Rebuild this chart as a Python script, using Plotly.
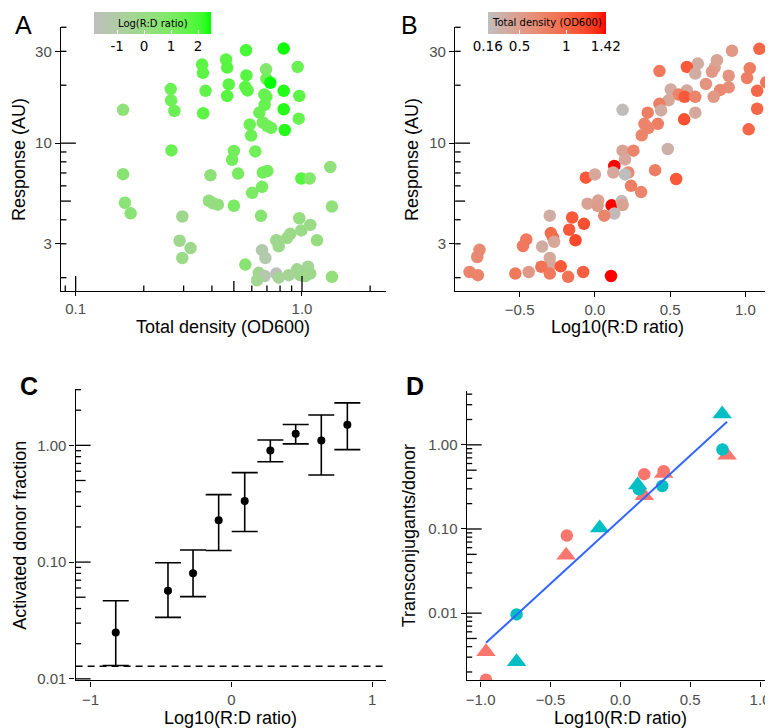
import math
import plotly.graph_objects as go

W, H = 773, 728

# ---------------- Panel A data: total density vs response, colour = ln(R:D) ----------------
a_density = [0.162, 0.162, 0.165, 0.175, 0.263, 0.264, 0.273, 0.265, 0.296, 0.288,
             0.322, 0.296, 0.362, 0.365, 0.375, 0.366, 0.394, 0.388, 0.404, 0.425,
             0.462, 0.467, 0.475, 0.467, 0.500, 0.491, 0.522, 0.500, 0.566, 0.568,
             0.562, 0.575, 0.588, 0.596, 0.622, 0.602, 0.562, 0.666, 0.671, 0.703,
             0.659, 0.694, 0.696, 0.725, 0.682, 0.696, 0.684, 0.648, 0.671, 0.701,
             0.730, 0.830, 0.830, 0.830, 0.839, 0.957, 0.973, 0.967, 0.993, 1.081,
             1.334, 1.356, 0.973, 0.993, 1.088, 0.888, 0.859, 0.770, 0.789, 1.165,
             0.666, 0.689, 0.644, 0.684, 0.770, 0.633, 0.789, 0.873, 0.951, 1.063,
             0.983, 1.088, 1.034, 1.356]
a_response = [14.9, 6.90, 4.90, 4.32, 19.1, 16.7, 14.7, 9.17, 4.16, 3.11,
              2.85, 2.53, 25.6, 23.2, 18.7, 14.3, 6.81, 5.02, 4.87, 4.79,
              27.2, 24.7, 20.2, 17.6, 9.10, 8.20, 6.95, 4.73, 30.4, 22.5,
              19.6, 18.8, 12.5, 10.95, 9.06, 5.52, 2.34, 5.93, 7.03, 7.17,
              4.19, 24.2, 21.6, 20.6, 17.9, 17.4, 15.8, 14.4, 12.8, 12.3,
              12.0, 31.0, 18.7, 15.0, 11.7, 24.9, 17.6, 13.4, 6.55, 6.55,
              7.52, 4.68, 4.07, 3.52, 3.76, 3.38, 3.21, 3.13, 2.91, 3.13,
              2.78, 2.53, 2.12, 2.04, 2.10, 1.94, 2.00, 2.06, 2.21, 2.28,
              2.06, 2.10, 2.04, 2.02]
a_ln_ratio = [0.4, 0.6, 0.5, 0.5, 1.4, 1.3, 1.4, 1.4, -0.3, -0.2,
              -0.2, 0.0, 1.7, 1.7, 1.6, 1.7, 0.4, 0.2, 0.2, 0.2,
              1.7, 1.8, 1.7, 1.8, 1.2, 1.2, 1.1, 1.0, 2.0, 1.8,
              1.8, 1.7, 1.4, 1.4, 1.3, 1.0, 0.6, 1.1, 1.2, 1.2,
              0.6, 0.8, 1.3, 2.5, 1.5, 1.5, 1.5, 1.4, 1.3, 1.3,
              1.3, 2.4, 2.3, 2.3, 2.3, 1.4, 1.7, 1.5, 1.8, 0.8,
              0.3, 0.3, 0.2, 0.0, 0.0, -0.1, -0.1, -0.2, -0.2, 0.2,
              -1.2, -1.2, -0.3, -1.3, -1.8, -0.4, -0.5, -0.5, -0.4, -0.4,
              -0.3, -0.3, -0.3, 0.3]
a_color_range = [-1.86, 2.48]
a_legend_ticks = [-1, 0, 1, 2]

# ---------------- Panel B data: log10 ratio vs response, colour = density ----------------
b_log_ratio = [1.093, 0.911, 0.684, 0.611, 0.429, 0.667, 0.811, 0.796, 0.778, 0.889,
               1.029, 1.011, 1.138, 0.738, 0.889, 0.833, 0.789, 0.504, 0.611, 0.556,
               0.596, 0.667, 0.489, 0.429, 0.440, 0.667, 0.593, 1.078, 1.078, 1.022,
               0.184, 0.351, 0.329, 0.418, 0.356, 0.311, 0.484, 0.184, 0.256, 0.200,
               0.400, 0.129, 0.222, 0.200, 0.122, -0.060, 0.000, 0.540, 0.240, 0.307,
               -0.049, 0.022, 0.018, 0.111, 0.178, 0.184, 0.129, 0.062, -0.151, -0.073,
               -0.300, -0.293, -0.278, -0.171, -0.129, -0.456, -0.478, -0.351, -0.271, -0.300,
               -0.296, -0.767, -0.782, -0.833, -0.778, -0.529, -0.440, -0.356, -0.300, -0.227,
               -0.178, -0.078, 0.107]
b_response = [30.9, 30.2, 25.9, 24.9, 23.7, 23.0, 27.0, 24.7, 23.5, 22.4,
              24.5, 21.8, 20.7, 20.3, 19.5, 18.9, 17.4, 19.0, 18.8, 17.9,
              17.4, 17.4, 16.7, 16.0, 14.8, 14.4, 13.3, 18.7, 15.1, 11.8,
              14.9, 14.4, 12.6, 12.6, 12.0, 10.98, 9.32, 9.14, 9.14, 8.23,
              7.24, 7.61, 7.04, 6.88, 7.04, 6.62, 6.88, 6.51, 6.00, 5.57,
              4.85, 5.04, 4.72, 4.75, 5.00, 4.77, 4.31, 4.20, 4.11, 3.81,
              4.20, 3.41, 3.23, 3.55, 3.13, 3.16, 2.92, 2.90, 3.07, 2.53,
              2.34, 2.79, 2.56, 2.14, 2.06, 2.10, 2.14, 2.28, 2.10, 2.29,
              2.02, 2.14, 2.04]
b_density = [1.0, 0.55, 0.35, 1.1, 0.85, 0.35, 0.45, 0.45, 0.55, 0.6,
             0.8, 0.8, 0.85, 0.6, 0.65, 0.7, 0.55, 0.35, 0.4, 0.75,
             1.1, 0.75, 0.4, 0.8, 0.35, 0.4, 1.15, 1.0, 1.0, 1.0,
             0.17, 0.8, 0.75, 0.8, 0.75, 0.75, 0.3, 0.45, 0.75, 0.4,
             0.8, 1.42, 0.7, 0.16, 0.4, 1.1, 0.4, 1.1, 0.8, 0.75,
             0.45, 0.45, 0.5, 1.42, 0.2, 0.45, 0.2, 0.75, 1.1, 1.15,
             0.35, 0.95, 0.95, 1.1, 1.2, 0.85, 0.85, 0.35, 0.4, 0.4,
             0.4, 0.7, 0.7, 0.75, 0.75, 0.85, 0.55, 0.9, 0.85, 1.1,
             0.9, 1.05, 1.42]
b_color_range = [0.16, 1.42]
b_legend_ticks = [0.16, 0.5, 1, 1.42]
b_legend_text = ["0.16", "0.5", "1", "1.42"]

# ---------------- Panel C data ----------------
c_log_ratio = [-0.821, -0.450, -0.272, -0.090, 0.095, 0.277, 0.457, 0.639, 0.824]
c_fraction = [0.0249, 0.0569, 0.0802, 0.228, 0.334, 0.902, 1.255, 1.10, 1.50]
c_upper = [0.0466, 0.0987, 0.127, 0.378, 0.584, 1.11, 1.51, 1.82, 2.31]
c_lower = [0.0130, 0.0336, 0.0506, 0.1255, 0.183, 0.723, 1.03, 0.557, 0.919]
c_detection_limit = 0.0128

# ---------------- Panel D data ----------------
d_red_circle_x = [-0.962, -0.383, 0.171, 0.310]
d_red_circle_y = [0.00162, 0.0835, 0.448, 0.486]
d_red_tri_x = [-0.962, -0.388, 0.171, 0.310, 0.764]
d_red_tri_y = [0.00348, 0.0486, 0.249, 0.456, 0.75]
d_cyan_circle_x = [-0.743, 0.133, 0.300, 0.731]
d_cyan_circle_y = [0.00965, 0.296, 0.324, 0.881]
d_cyan_tri_x = [-0.743, -0.148, 0.124, 0.729]
d_cyan_tri_y = [0.00265, 0.1028, 0.333, 2.32]
d_fit_x = [-0.962, 0.764]
d_fit_y = [0.00444, 1.88]

# ---------------- log-tick positions ----------------
a_x_short = [0.09, 0.2, 0.3, 0.4, 0.6, 0.7, 0.8, 0.9, 2]
a_x_mid = [0.5]
a_x_long = [0.1, 1]
resp_short = [2, 3, 4, 6, 7, 8, 9, 20, 30, 40]
resp_mid = [5]
resp_long = [10]
c_short = [0.02, 0.03, 0.04, 0.06, 0.07, 0.08, 0.09, 0.2, 0.3, 0.4, 0.6, 0.7, 0.8, 0.9, 2, 3]
c_mid = [0.05, 0.5]
c_long = [0.01, 0.1, 1]
d_short = [0.002, 0.003, 0.004, 0.006, 0.007, 0.008, 0.009, 0.02, 0.03, 0.04, 0.06, 0.07,
           0.08, 0.09, 0.2, 0.3, 0.4, 0.6, 0.7, 0.8, 0.9, 2, 3, 4]
d_mid = [0.005, 0.05, 0.5]
d_long = [0.01, 0.1, 1]

# ---------------- colour helpers (CIELAB ramp like ggplot) ----------------
def _lin(c):
    c = c / 255.0
    return c / 12.92 if c <= 0.04045 else ((c + 0.055) / 1.055) ** 2.4

def _gam(c):
    c = 12.92 * c if c <= 0.0031308 else 1.055 * max(c, 0) ** (1 / 2.4) - 0.055
    return max(0, min(255, round(c * 255)))

def _f(t):
    return t ** (1 / 3) if t > (6 / 29) ** 3 else t / (3 * (6 / 29) ** 2) + 4 / 29

def _finv(t):
    return t ** 3 if t > 6 / 29 else 3 * (6 / 29) ** 2 * (t - 4 / 29)

WP = (0.95047, 1.0, 1.08883)

def to_lab(hexc):
    r, g, b = [_lin(int(hexc[i:i + 2], 16)) for i in (1, 3, 5)]
    X = 0.4124 * r + 0.3576 * g + 0.1805 * b
    Y = 0.2126 * r + 0.7152 * g + 0.0722 * b
    Z = 0.0193 * r + 0.1192 * g + 0.9505 * b
    fx_, fy_, fz_ = _f(X / WP[0]), _f(Y / WP[1]), _f(Z / WP[2])
    return (116 * fy_ - 16, 500 * (fx_ - fy_), 200 * (fy_ - fz_))

def from_lab(L, a, b):
    fy_ = (L + 16) / 116
    fx_ = fy_ + a / 500
    fz_ = fy_ - b / 200
    X, Y, Z = WP[0] * _finv(fx_), WP[1] * _finv(fy_), WP[2] * _finv(fz_)
    r = 3.2406 * X - 1.5372 * Y - 0.4986 * Z
    g = -0.9689 * X + 1.8758 * Y + 0.0415 * Z
    bb = 0.0557 * X - 0.2040 * Y + 1.0570 * Z
    return "rgb(%d,%d,%d)" % (_gam(r), _gam(g), _gam(bb))

def lab_scale(lo, hi, n=16):
    l1, l2 = to_lab(lo), to_lab(hi)
    out = []
    for i in range(n + 1):
        t = i / n
        out.append([t, from_lab(*[l1[k] + (l2[k] - l1[k]) * t for k in range(3)])])
    return out

green_scale = lab_scale("#BEBEBE", "#00FF00")
red_scale = lab_scale("#BEBEBE", "#FF0000")

# ---------------- layout geometry (pixels) ----------------
def fx(p):
    return p / W

def fy(p):
    return 1 - p / H

A_XD, A_YD = [52, 377], [19.3, 285.7]
B_XD, B_YD = [446.7, 771.7], [19.3, 285.7]
C_XD, C_YD = [66.7, 377.7], [385, 679]
D_XD, D_YD = [458.3, 766], [386.7, 679]

A_XR = [-1.065, 0.369]
A_YR = [0.232, 1.603]
B_XR = [-0.929, 1.228]
C_XR = [-1.106, 1.10]
C_YR = [-2.014, 0.48]
D_XR = [-1.10, 1.10]
D_YR = [-2.80, 0.64]

TICKFONT = dict(family="Liberation Sans", size=15, color="#4D4D4D")
LW = 1.3
SHORT, MID, LONG = 5.5, 10, 15

def main_axis(dom, anchor, rng, typ, tickvals, ticktext, **kw):
    d = dict(domain=dom, anchor=anchor, range=rng, type=typ, showline=True,
             linecolor="black", linewidth=LW, showgrid=False, zeroline=False,
             tickmode="array", tickvals=tickvals, ticktext=ticktext,
             ticks="outside", ticklen=5, tickcolor="black", tickwidth=LW,
             tickfont=TICKFONT)
    d.update(kw)
    return d

shapes = []

def logticks_y(xref, yref, rng, xdom_px, ydom_px, sets):
    width = xdom_px[1] - xdom_px[0]
    for vals, ln in sets:
        for v in vals:
            f = (math.log10(v) - rng[0]) / (rng[1] - rng[0])
            if 0 <= f <= 1.001:
                shapes.append(dict(type="line", xref=xref + " domain", yref=yref + " domain",
                                   x0=0, x1=ln / width, y0=f, y1=f,
                                   line=dict(color="black", width=LW)))

def logticks_x(xref, yref, rng, xdom_px, ydom_px, sets):
    height = ydom_px[1] - ydom_px[0]
    for vals, ln in sets:
        for v in vals:
            f = (math.log10(v) - rng[0]) / (rng[1] - rng[0])
            if 0 <= f <= 1:
                shapes.append(dict(type="line", xref=xref + " domain", yref=yref + " domain",
                                   x0=f, x1=f, y0=0, y1=ln / height,
                                   line=dict(color="black", width=LW)))

logticks_x("x", "y", A_XR, A_XD, A_YD, [(a_x_short, SHORT), (a_x_mid, MID), (a_x_long, LONG)])
logticks_y("x", "y", A_YR, A_XD, A_YD, [(resp_short, SHORT), (resp_mid, MID), (resp_long, LONG)])
logticks_y("x2", "y2", A_YR, B_XD, B_YD, [(resp_short, SHORT), (resp_mid, MID), (resp_long, LONG)])
logticks_y("x3", "y3", C_YR, C_XD, C_YD, [(c_short, SHORT), (c_mid, MID), (c_long, LONG)])
logticks_y("x4", "y4", D_YR, D_XD, D_YD, [(d_short, SHORT), (d_mid, MID), (d_long, LONG)])

fig = go.Figure()

# Panel A
fig.add_trace(go.Scatter(x=a_density, y=a_response, mode="markers", xaxis="x", yaxis="y",
                         marker=dict(size=12.5, color=a_ln_ratio, coloraxis="coloraxis", line_width=0),
                         showlegend=False, hoverinfo="skip"))
# Panel B
fig.add_trace(go.Scatter(x=b_log_ratio, y=b_response, mode="markers", xaxis="x2", yaxis="y2",
                         marker=dict(size=12.5, color=b_density, coloraxis="coloraxis2", line_width=0),
                         showlegend=False, hoverinfo="skip"))
# Panel C
fig.add_trace(go.Scatter(x=C_XR, y=[c_detection_limit, c_detection_limit], mode="lines",
                         xaxis="x3", yaxis="y3", line=dict(color="black", width=1.4, dash="7px,5px"),
                         showlegend=False, hoverinfo="skip"))
fig.add_trace(go.Scatter(x=c_log_ratio, y=c_fraction, mode="markers", xaxis="x3", yaxis="y3",
                         marker=dict(size=8, color="black"),
                         error_y=dict(type="data", symmetric=False,
                                      array=[u - v for u, v in zip(c_upper, c_fraction)],
                                      arrayminus=[v - l for v, l in zip(c_fraction, c_lower)],
                                      width=13, thickness=1.6, color="black"),
                         showlegend=False, hoverinfo="skip"))
# Panel D
RED, CYAN = "#F8766D", "#00BFC4"
for xs, ys, col, sym, sz in [
    (d_red_circle_x, d_red_circle_y, RED, "circle", 12.5),
    (d_red_tri_x, d_red_tri_y, RED, "triangle-up", 17),
    (d_cyan_circle_x, d_cyan_circle_y, CYAN, "circle", 12.5),
    (d_cyan_tri_x, d_cyan_tri_y, CYAN, "triangle-up", 17),
]:
    fig.add_trace(go.Scatter(x=xs, y=ys, mode="markers", xaxis="x4", yaxis="y4",
                             marker=dict(size=sz, color=col, symbol=sym, line_width=0),
                             showlegend=False, hoverinfo="skip"))
fig.add_trace(go.Scatter(x=d_fit_x, y=d_fit_y, mode="lines", xaxis="x4", yaxis="y4",
                         line=dict(color="#3366FF", width=2), showlegend=False, hoverinfo="skip"))

AXD = [fx(A_XD[0]), fx(A_XD[1])]
AYD = [fy(A_YD[1]), fy(A_YD[0])]
BXD = [fx(B_XD[0]), fx(B_XD[1])]
BYD = [fy(B_YD[1]), fy(B_YD[0])]
CXD = [fx(C_XD[0]), fx(C_XD[1])]
CYD = [fy(C_YD[1]), fy(C_YD[0])]
DXD = [fx(D_XD[0]), fx(D_XD[1])]
DYD = [fy(D_YD[1]), fy(D_YD[0])]

CB_FONT = dict(family="DejaVu Sans", size=13.5, color="black")

def colorbar(xc, ticks, texts, length):
    return dict(orientation="h", x=fx(xc), xanchor="center", y=fy(4), yanchor="top",
                len=length, lenmode="pixels", thickness=22, thicknessmode="pixels",
                outlinewidth=0, xpad=0, ypad=0, tickmode="array",
                tickvals=ticks, ticktext=texts,
                ticks="inside", ticklen=4, tickcolor="white", tickwidth=1,
                tickfont=CB_FONT)

layout = dict(
    width=W, height=H, margin=dict(l=0, r=0, t=0, b=0),
    paper_bgcolor="white", plot_bgcolor="white", showlegend=False,
    xaxis=main_axis(AXD, "y", A_XR, "log", [0.1, 1], ["0.1", "1.0"], ticklen=4),
    yaxis=main_axis(AYD, "x", A_YR, "log", [3, 10, 30], ["3", "10", "30"]),
    xaxis2=main_axis(BXD, "y2", B_XR, "linear", [-0.5, 0, 0.5, 1.0],
                     ["\u22120.5", "0.0", "0.5", "1.0"]),
    yaxis2=main_axis(BYD, "x2", A_YR, "log", [3, 10, 30], ["3", "10", "30"]),
    xaxis3=main_axis(CXD, "y3", C_XR, "linear", [-1, 0, 1], ["\u22121", "0", "1"]),
    yaxis3=main_axis(CYD, "x3", C_YR, "log", [0.01, 0.1, 1], ["0.01", "0.10", "1.00"]),
    xaxis4=main_axis(DXD, "y4", D_XR, "linear", [-1, -0.5, 0, 0.5, 1],
                     ["\u22121.0", "\u22120.5", "0.0", "0.5", "1.0"]),
    yaxis4=main_axis(DYD, "x4", D_YR, "log", [0.01, 0.1, 1], ["0.01", "0.10", "1.00"]),
    coloraxis=dict(cmin=a_color_range[0], cmax=a_color_range[1], colorscale=green_scale,
                   colorbar=colorbar(143.7, a_legend_ticks, [str(t) for t in a_legend_ticks], 117)),
    coloraxis2=dict(cmin=b_color_range[0], cmax=b_color_range[1], colorscale=red_scale,
                    colorbar=colorbar(538.4, b_legend_ticks, b_legend_text, 118)),
    shapes=shapes,
)
fig.update_layout(**layout)

TITLE = dict(family="Liberation Sans", size=18, color="black")
ann = []

def text(x, y, s, font, angle=0, xanchor="center", yanchor="middle"):
    ann.append(dict(x=fx(x), y=fy(y), xref="paper", yref="paper", text=s, showarrow=False,
                    font=font, textangle=angle, xanchor=xanchor, yanchor=yanchor))

text(214.5, 322, "Total density (OD600)", TITLE)
text(609, 322, "Log10(R:D ratio)", TITLE)
text(222, 717, "Log10(R:D ratio)", TITLE)
text(612, 717, "Log10(R:D ratio)", TITLE)
text(10, 152.5, "Response (AU)", TITLE, angle=-90)
text(403.5, 152.5, "Response (AU)", TITLE, angle=-90)
text(11, 532, "Activated donor fraction", TITLE, angle=-90)
text(400, 533, "Transconjugants/donor", TITLE, angle=-90)
LEG = dict(family="DejaVu Sans", size=10, color="black")
text(143.7, 15.5, "Log(R:D ratio)", LEG)
text(538.4, 15, "Total density (OD600)", LEG)
LET = dict(family="Liberation Sans", size=25, color="black")
text(4, 1, "A", LET, xanchor="left", yanchor="top")
text(391, 1, "B", LET, xanchor="left", yanchor="top")
text(9, 366, "<b>C</b>", LET, xanchor="left", yanchor="top")
text(396, 366, "<b>D</b>", LET, xanchor="left", yanchor="top")
fig.update_layout(annotations=ann)

fig.write_html("out.html", config={"displayModeBar": False})
